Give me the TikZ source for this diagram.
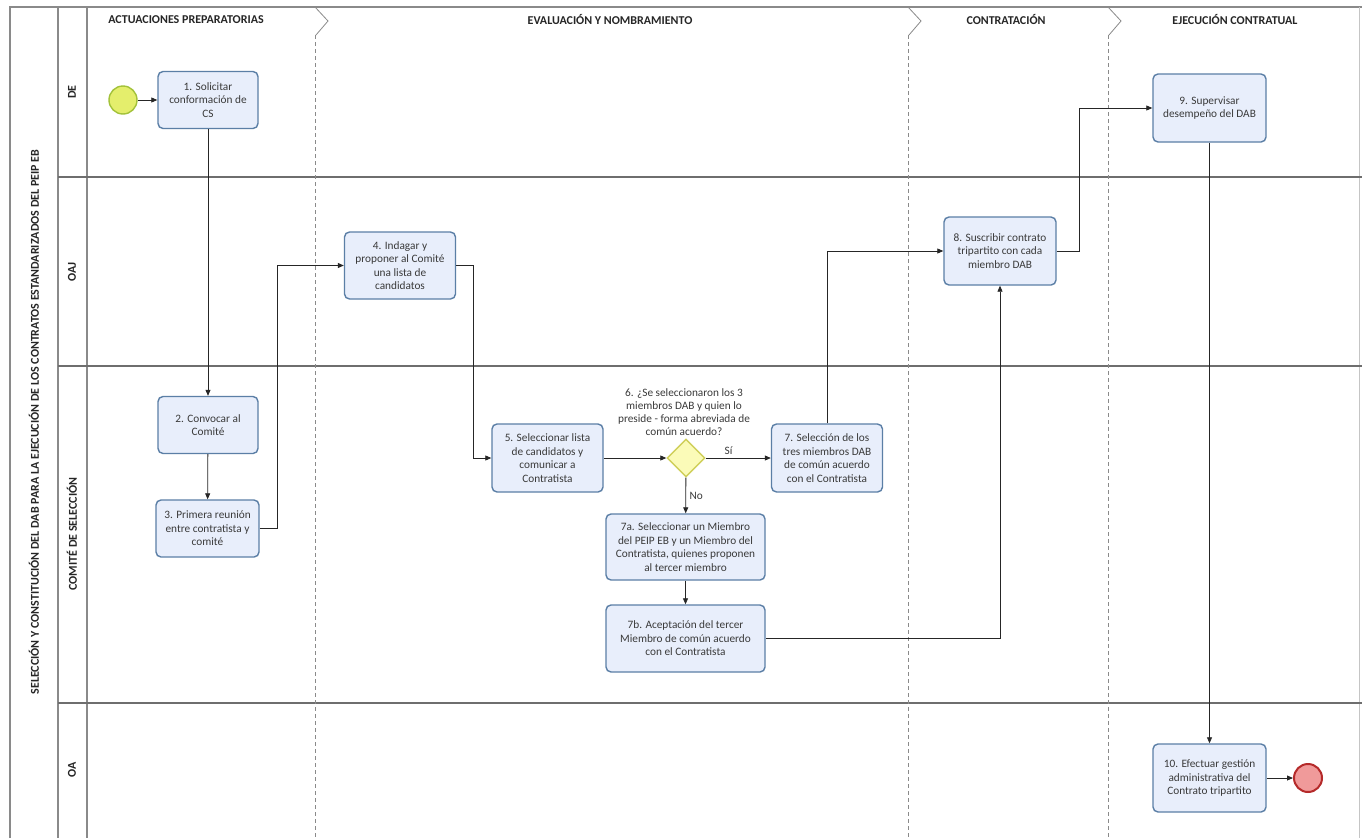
\documentclass[tikz,border=0pt]{standalone}
\usepackage{fontspec}
\setmainfont{Carlito}
\usetikzlibrary{arrows.meta,shapes.geometric,calc}
\definecolor{taskfill}{HTML}{E8EEFB}
\definecolor{taskdraw}{HTML}{5B7FA6}
\definecolor{textc}{HTML}{3A3A3A}
\definecolor{framec}{HTML}{8A8A8A}
\definecolor{lanec}{HTML}{6E6E6E}
\definecolor{gwfill}{HTML}{FBFBB8}
\definecolor{gwdraw}{HTML}{CFCF5A}
\definecolor{startfill}{HTML}{E4EE6C}
\definecolor{startdraw}{HTML}{A3C23A}
\definecolor{endfill}{HTML}{F09A9A}
\definecolor{enddraw}{HTML}{B52A2A}
\begin{document}
\begin{tikzpicture}[x=1pt,y=-1pt,
  task/.style={draw=taskdraw, fill=taskfill, rounded corners=5pt, line width=1.4pt,
    align=center, font=\fontsize{11.3}{13.5}\selectfont, text=textc, inner sep=1pt},
  gateway/.style={diamond, aspect=1, draw=gwdraw, fill=gwfill, line width=1.4pt,
    minimum width=38pt, minimum height=38pt, inner sep=0pt},
  startev/.style={circle, draw=startdraw, fill=startfill, line width=1.4pt, minimum size=28pt, inner sep=0pt},
  endev/.style={circle, draw=enddraw, fill=endfill, line width=2pt, minimum size=28pt, inner sep=0pt},
  flow/.style={draw=black!85, line width=0.8pt, -{Triangle[length=6pt,width=5pt]}},
  frame/.style={draw=framec, line width=1.2pt},
  laneline/.style={draw=lanec, line width=1.2pt},
  phase/.style={draw=framec, line width=0.8pt, dashed, dash pattern=on 4pt off 3pt},
  hdr/.style={font=\fontsize{12}{14}\selectfont\bfseries, text=black!85},
  lanelbl/.style={font=\fontsize{12}{14}\selectfont\bfseries, text=black!85, rotate=90},
  edgelbl/.style={font=\fontsize{11.3}{13.5}\selectfont, text=textc}
]
\useasboundingbox (0,0) rectangle (1362,838);
\fill[white] (0,0) rectangle (1362,838);

% pool frame
\draw[frame] (10,838) -- (10,7) -- (1362,7);
\draw[frame] (58,7) -- (58,838);
\draw[frame] (87,7) -- (87,838);
\draw[framec!50, line width=0.6pt] (1359,7) -- (1359,838);

% lane separators
\draw[laneline] (58,177) -- (1362,177);
\draw[laneline] (58,366) -- (1362,366);
\draw[laneline] (58,703) -- (1362,703);

% phase separators
\foreach \px in {315,908,1108}{
  \draw[framec, line width=0.8pt] (\px,7) -- (\px+13,21) -- (\px+1,35);
  \draw[phase] (\px,35) -- (\px,838);
}

% headers
\node[hdr] (hdr1) at (186,20) {ACTUACIONES PREPARATORIAS};
\node[hdr] (hdr2) at (610,20) {EVALUACIÓN Y NOMBRAMIENTO};
\node[hdr] (hdr3) at (1006,20) {CONTRATACIÓN};
\node[hdr] (hdr4) at (1235,20) {EJECUCIÓN CONTRATUAL};

% title and lane labels
\node[font=\fontsize{12}{14}\selectfont\bfseries, text=black!85, rotate=90] (title) at (34,422)
  {SELECCIÓN Y CONSTITUCIÓN DEL DAB PARA LA EJECUCIÓN DE LOS CONTRATOS ESTANDARIZADOS DEL PEIP EB};
\node[lanelbl] (lde) at (72,92) {DE};
\node[lanelbl] (loaj) at (72,272) {OAJ};
\node[lanelbl] (lcs) at (72,534) {COMITÉ DE SELECCIÓN};
\node[lanelbl] (loa) at (72,770) {OA};

% events
\node[startev] (start) at (123,100) {};
\node[endev] (end) at (1308,778) {};

% tasks
\node[task, minimum width=100pt, minimum height=57pt] (t1) at (208,100) {1. Solicitar\\conformación de\\CS};
\node[task, minimum width=100pt, minimum height=57pt] (t2) at (208,425) {2. Convocar al\\Comité};
\node[task, minimum width=103pt, minimum height=57pt] (t3) at (207.5,528.5) {3. Primera reunión\\entre contratista y\\comité};
\node[task, minimum width=111pt, minimum height=67pt] (t4) at (400,265.5) {4. Indagar y\\proponer al Comité\\una lista de\\candidatos};
\node[task, minimum width=111pt, minimum height=68pt] (t5) at (547.5,458) {5. Seleccionar lista\\de candidatos y\\comunicar a\\Contratista};
\node[gateway] (g6) at (686,458) {};
\node[font=\fontsize{11.3}{13.2}\selectfont, text=textc, align=center, anchor=south, inner sep=2pt] (g6lbl) at (684,438)
  {6. ¿Se seleccionaron los 3\\miembros DAB y quien lo\\preside - forma abreviada de\\común acuerdo?};
\node[task, minimum width=111pt, minimum height=68pt] (t7) at (827,458) {7. Selección de los\\tres miembros DAB\\de común acuerdo\\con el Contratista};
\node[task, minimum width=159pt, minimum height=66pt] (t7a) at (685.5,547) {7a. Seleccionar un Miembro\\del PEIP EB y un Miembro del\\Contratista, quienes proponen\\al tercer miembro};
\node[task, minimum width=159pt, minimum height=67pt] (t7b) at (685.5,638.5) {7b. Aceptación del tercer\\Miembro de común acuerdo\\con el Contratista};
\node[task, minimum width=112pt, minimum height=68pt] (t8) at (1000,251) {8. Suscribir contrato\\tripartito con cada\\miembro DAB};
\node[task, minimum width=113pt, minimum height=68pt] (t9) at (1209.5,108) {9. Supervisar\\desempeño del DAB};
\node[task, minimum width=113pt, minimum height=68pt] (t10) at (1209.5,778) {10. Efectuar gestión\\administrativa del\\Contrato tripartito};

% connectors
\draw[flow] (start) -- (t1);
\draw[flow] (t1) -- (t2);
\draw[flow] (t2) -- (t3);
\draw[flow] (t3.east) -- ++(18,0) |- (t4.west);
\draw[flow] (t4.east) -- ++(17,0) |- (t5.west);
\draw[flow] (t5) -- (g6);
\draw[flow] (g6) -- node[edgelbl, above, pos=0.35] (lsi) {Sí} (t7);
\draw[flow] (g6) -- node[edgelbl, right, pos=0.5] (lno) {No} (t7a);
\draw[flow] (t7a) -- (t7b);
\draw[flow] (t7.north) |- (t8.west);
\draw[flow] (t7b.east) -| (t8.south);
\draw[flow] (t8.east) -- ++(23,0) |- (t9.west);
\draw[flow] (t9) -- (t10);
\draw[flow] (t10) -- (end);
\end{tikzpicture}
\end{document}
